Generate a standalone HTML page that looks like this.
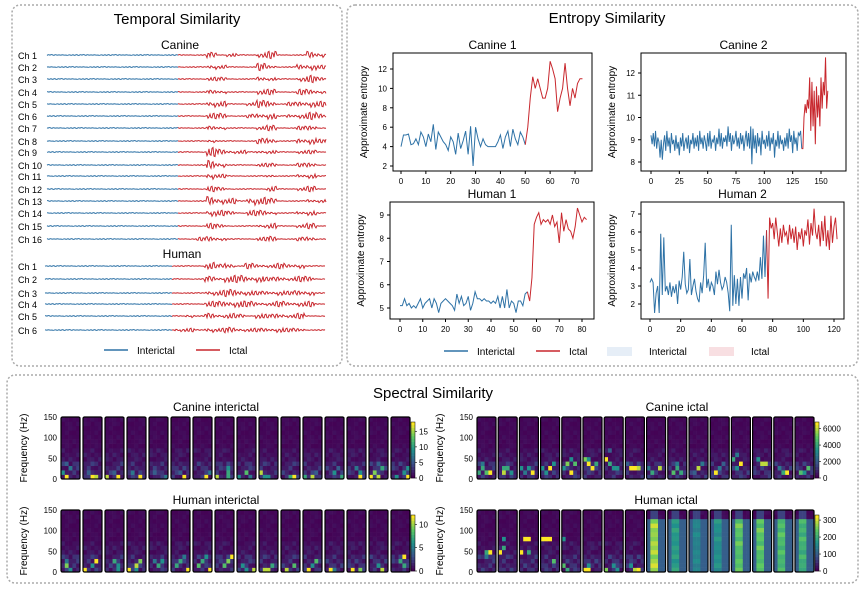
<!DOCTYPE html>
<html><head><meta charset="utf-8">
<style>
body{margin:0;background:#fff;}
svg{display:block;font-family:"Liberation Sans",sans-serif;}
</style></head>
<body>
<svg id="fig" width="865" height="591" viewBox="0 0 865 591" xmlns="http://www.w3.org/2000/svg">
<rect x="0" y="0" width="865" height="591" fill="#fff"/>
<rect x="12" y="5" width="330" height="361" rx="8" fill="none" stroke="#aaa" stroke-width="1.5" stroke-dasharray="2,2"/>
<rect x="347" y="5" width="511" height="361" rx="8" fill="none" stroke="#aaa" stroke-width="1.5" stroke-dasharray="2,2"/>
<rect x="7" y="375" width="851" height="208" rx="8" fill="none" stroke="#aaa" stroke-width="1.5" stroke-dasharray="2,2"/>
<text x="177" y="24" font-size="15" text-anchor="middle">Temporal Similarity</text>
<text x="607" y="23" font-size="15" text-anchor="middle">Entropy Similarity</text>
<text x="433" y="398" font-size="15" text-anchor="middle">Spectral Similarity</text>
<g id="temporal"></g>
<g id="entropy"></g>
<g id="spectral"></g>
</svg>
<script>
// ---------- Temporal data ----------
const canineRows = [55,67,79,92,104,116,128,141,152,165,176,189,201,213,226,239];
const humanRows = [266,279,293,304,316,330];
const canineAmp = ["1111111111111111312113411143","1111111111111111321114211342","1111111111111111221113211342","1111111111111111221113311332","1111111111111111431124412343","1111111111111111331123412343","1111111111111111221112311231","1111111111111111211113411342","1111111111111111532212211221","1111111111111111531112211231","1111111111111111421111211231","1111111111111111321111311231","1111111111111111543154311122","1111111111111111432133211231","1111111111111111321112311231","1111111111111112321112311231"];
const humanAmp = ["1111111111111111424132232311","1111111111111111324434232331","1111111111111111334432232331","1111111111111111334432232331","1111111111111121323213232311","1111111111111221323222232211"];
const jitter = [0.2,-0.5,0.9,-0.3,0.1,-1,0.6,0.3,-0.7,1,-0.2,0.4,-0.9,0.7,-0.1,0.5,-0.6,0.8,-0.4,0.2,-0.8,0.9,0,-0.5,0.3,-0.2,0.7,-1,0.4,-0.3,0.6,-0.7];
// ---------- Entropy data ----------
const c1Inter = [4,5.2,5.2,5.3,4.2,4.3,4.8,4.2,5.5,5,4,5.3,4.5,6.3,3.7,5.5,5,4.5,4.2,3.6,5,4.5,3.2,5.4,3.8,4.6,5.6,3.2,6.1,2,6,4.8,4,4.8,4.2,4,4,4,4,4.5,5.2,3.8,5,5.6,4,5.8,4.8,4.2,5.5,5,4.2];
const c1Ictal = [6,9,11.2,10,11,10,9,9,10,12.8,12,11,7.6,9,10,12.6,10,8.2,10,9,10.5,11,11];
const c2Inter = [9.2,8.8,9.3,8.7,9.4,8.6,9.1,8.9,8.2,9,8.1,8.8,9.2,8.5,9.4,8.7,9.1,8.4,9.3,8.8,9,8.5,9.2,8.6,8.9,8.3,9.1,8.7,9.3,8.5,8.9,9.1,8.6,9.2,8.4,9,8.8,9.3,8.6,9.1,8.7,9.2,8.5,9.4,8.8,9.1,8.6,9.2,8.9,8.5,9.3,8.7,9.4,8.6,9,8.9,9.2,8.5,9.1,8.8,9.5,8.7,9.3,8.6,9.1,8.9,9.2,8.7,9.6,8.9,9.3,8.5,9.2,8.8,9,9.4,8.7,9.1,8.6,9.3,8.8,9.2,8.5,9,9.4,8.7,9.3,8.6,9.6,7.9,9.5,8.6,9.2,8.4,9.3,8.7,9.1,8.3,9.4,8.8,9,8.6,9.2,8.7,9.4,8.5,9.1,8.8,9.3,8.2,9,8.7,9.4,8.6,9.2,8.8,9,8.5,9.1,8.7,9.3,8.6,9.5,8.9,9.2,8.4,9.4,8.8,9.1,8.5,9.3,9.2,9.4,8.6];
const c2Ictal = [8.6,10,10.6,10.2,10.8,10.4,11.8,9.4,11.6,9.6,11.2,8.8,11.4,10,11,9.6,11.8,10.4,11.6,11,12.7,10.4,11.2];
const h1Inter = [5.1,5.1,5.4,5.1,5.2,5,5.1,5,5.2,5.4,5,5.2,5.3,5.4,5,5.4,5.2,4.8,5.2,5.3,5.4,5.3,5.2,5.1,4.9,5.6,5.2,5.5,5.1,5.2,5.5,4.9,5.2,5.7,5.4,5.4,5.3,5.4,5.3,5.3,5.2,5.3,5.2,5.5,5,5.5,5,5.8,5,5.3,5.2,4.8,5.3,5.3,5.1,5.6,5.7];
const h1Ictal = [5.3,6.3,8.6,8.9,9.1,8.6,8.8,8.7,8.8,8.6,9,8.5,8.7,7.8,9.1,8.3,8.8,8.4,8.3,8,8.5,9.3,9,8.7,8.9,8.8];
const h2Inter = [3.2,3.4,3.2,1.5,2.6,3,1.5,5.9,2.5,5.7,2.7,3,2.5,3.2,2.4,3,2.6,3.1,2,3.3,2.8,3.5,4.9,3.1,2.6,2.8,4.5,2.5,3,3.4,2.7,2.3,2.1,3.2,2.6,3.6,5.4,2.9,3.4,2.7,3.2,3,2.5,3.8,3.1,3.9,3.2,2.8,3,3.5,3.2,2.6,1.6,6.4,1.9,3.6,2,3.4,1.9,3.5,2.3,3.7,3.4,4,2.2,3.7,3.2,3.8,3.5,3.3,3.8,3.3,4.6,3.4,5.8,3.5,6.1];
const h2Ictal = [2.3,6.8,6.2,6.5,5.6,6.8,6,5.2,6.2,5.4,6.4,5.8,6,5.3,6.4,5.6,6.2,5.4,6.3,5,6,5.6,6.2,5.2,6.1,5.8,6.7,5.3,6.5,5.8,7.3,6,5.6,6.4,5.2,6.6,5.5,6.9,5.2,6.1,5,6.9,5.4,6.3,6.8,5.6];
// ---------- Spectral data ----------
const canineInterHot = [[[1,0,1],[0,1,.5],[2,2,.4],[1,3,.3]],[[2,0,1],[3,0,.9],[1,1,.3]],[[0,0,.9],[3,0,1],[2,1,.3]],[[3,0,1],[1,1,.4]],[[1,1,.3],[4,0,.4]],[[3,0,1],[2,1,.3]],[[3,0,1],[4,1,.4]],[[0,0,.9],[3,0,.6],[3,1,.6],[3,2,.5]],[[0,0,.5],[2,1,.7],[3,0,.4]],[[0,1,.9],[1,0,.5],[2,0,.5]],[[3,0,1],[2,0,.6]],[[0,0,.6],[2,0,.9],[3,1,.3]],[[2,1,.5],[4,0,.6],[3,2,.3]],[[3,0,1],[3,1,.5],[2,2,.4]],[[0,0,1],[1,1,.8],[2,0,.9],[3,2,.6],[2,3,.3]],[[1,0,.5],[4,0,1],[3,1,.5],[4,2,.5]]];
const canineIctalHot = [[[0,1,.6],[1,2,.6],[2,1,.7],[3,1,1],[1,3,.4]],[[1,1,.9],[2,2,.6],[3,1,.5],[1,2,.6]],[[0,2,.5],[2,2,.5],[3,1,1],[1,1,.4]],[[1,1,.5],[2,2,1],[3,3,.5],[0,2,.5]],[[2,1,1],[1,3,.8],[3,3,.7],[2,4,.5],[0,2,.5]],[[0,4,.8],[1,3,1],[2,2,1],[3,3,.6],[1,4,.5]],[[0,4,1],[1,3,.6],[2,2,.5],[3,2,.5],[1,6,.3]],[[1,2,1],[2,2,1],[3,2,.9],[0,3,.3]],[[1,1,.6],[3,2,.9],[0,2,.4]],[[1,1,.7],[2,2,.6],[3,1,.6],[2,3,.4]],[[2,2,.9],[3,3,.4],[1,1,.3]],[[1,1,1],[2,2,.4],[3,3,.3]],[[1,2,.5],[2,3,1],[0,4,.6],[1,5,.4]],[[2,3,.9],[3,3,.9],[1,4,.5]],[[2,1,.6],[3,1,1],[1,2,.4]],[[1,1,.7],[3,2,.7],[2,1,.5]]];
const humanInterHot = [[[1,1,.8],[2,0,.5],[1,2,.4]],[[0,0,1],[3,2,1],[2,1,.5]],[[3,0,.5],[2,2,.6],[3,1,.5]],[[0,0,1],[2,1,.9],[3,2,.8],[2,0,.5]],[[2,1,.6],[3,2,.5],[1,2,.4]],[[1,1,.6],[2,2,.6],[3,3,.4],[4,0,1]],[[1,1,.7],[2,2,.6],[3,3,.5],[4,0,1]],[[2,1,.7],[3,2,.8],[4,3,1]],[[2,0,.5],[1,1,.5],[4,0,.9]],[[1,0,.9],[2,0,.9],[3,1,.6]],[[1,0,.9],[3,1,.7]],[[1,0,1],[3,2,.7],[2,1,.5]],[[1,0,1],[2,0,.4]],[[1,0,1],[3,0,.8]],[[2,1,.5],[3,0,.9]],[[3,3,1],[2,2,.6],[3,1,.6]]];
const humanIctalHot = [[[2,4,.6],[3,4,1],[2,3,.4]],[[0,4,1],[1,5,.6],[1,7,.5]],[[0,4,1],[1,7,1],[2,7,1],[2,4,.6]],[[0,7,1],[1,7,1],[2,7,1],[3,2,.7]],[[0,7,.5],[0,1,.7],[1,0,.6]],[[0,0,1],[1,0,1],[1,1,.5]],[[0,0,.8],[2,1,.5],[3,0,.5]],[[2,0,.9],[3,0,1],[1,1,.5]]];
const humanIctalStripe = [.95,.6,.5,.55,.8,.8,.75,.7];
const cbTicksCI = ["0","5","10","15"], cbTicksCX = ["0","2000","4000","6000"], cbTicksHI = ["0","5","10"], cbTicksHX = ["0","100","200","300"];
const freqTicks = [0,50,100,150];

const NS = "http://www.w3.org/2000/svg";
function el(tag, attrs, parent, txt){const e=document.createElementNS(NS,tag);for(const k in attrs)e.setAttribute(k,attrs[k]);if(txt!==undefined)e.textContent=txt;parent.appendChild(e);return e;}
const BLUE="#2e72a6", RED="#c8272d";

// ---------- Temporal ----------
const tg=document.getElementById('temporal');
function trace(y, amp, x0, xSwitch, x1, seed, lbl, name){
  const t=el('text',{x:18,y:y+4,'font-size':9},tg,lbl);
  
  
  const segW=(x1-x0)/amp.length;
  let pb="",pr="";
  for(let x=x0;x<=x1;x+=1){
    const seg=Math.min(amp.length-1,Math.floor((x-x0)/segW));
    const a=+amp[seg];
    const j=jitter[(x*7+seed*13)%jitter.length];
    const v=y+(a===1?0.4:a*0.9)*j;
    const pt=x.toFixed(0)+","+v.toFixed(1)+" ";
    if(x<=xSwitch)pb+=pt;
    if(x>=xSwitch)pr+=pt;
  }
  const b=el('polyline',{points:pb,fill:'none',stroke:BLUE,'stroke-width':1},tg);
  
  
  const r=el('polyline',{points:pr,fill:'none',stroke:RED,'stroke-width':1},tg);
  
  
}
let tt=el('text',{x:180,y:49,'font-size':12,'text-anchor':'middle'},tg,'Canine');


canineRows.forEach((y,i)=>trace(y,canineAmp[i],47,178,326,i,'Ch '+(i+1),'canine-ch-'+(i+1)));
tt=el('text',{x:182,y:258,'font-size':12,'text-anchor':'middle'},tg,'Human');


humanRows.forEach((y,i)=>trace(y,humanAmp[i],45,172,325,i+5,'Ch '+(i+1),'human-ch-'+(i+1)));
function legLine(g,x,y,c,label,name,patch){
  const gg=el('g',{},g);
  
  
  if(patch) el('rect',{x:x,y:y-4,width:25,height:9,fill:c},gg);
  else el('line',{x1:x,y1:y,x2:x+24,y2:y,stroke:c,'stroke-width':1.6},gg);
  el('text',{x:x+(patch?42:33),y:y+4,'font-size':10},gg,label);
}
legLine(tg,104,350,BLUE,'Interictal','temporal-legend-interictal');
legLine(tg,196,350,RED,'Ictal','temporal-legend-ictal');

// ---------- Entropy ----------
const eg=document.getElementById('entropy');
function entropyPlot(cfg){
  const g=el('g',{},eg);
  
  
  const X=v=>cfg.px0+(v-cfg.x0)*(cfg.px1-cfg.px0)/(cfg.x1-cfg.x0);
  const Y=v=>cfg.py0+(v-cfg.y0)*(cfg.py1-cfg.py0)/(cfg.y1-cfg.y0);
  let t=el('text',{x:(cfg.bx+cfg.bx2)/2,y:cfg.by-4,'font-size':12,'text-anchor':'middle'},g,cfg.title);
  
  
  const ax=el('rect',{x:cfg.bx,y:cfg.by,width:cfg.bx2-cfg.bx,height:cfg.by2-cfg.by,fill:'none',stroke:'#000','stroke-width':1},g);
  
  
  cfg.xt.forEach(v=>{el('line',{x1:X(v),x2:X(v),y1:cfg.by2,y2:cfg.by2+3,stroke:'#000'},g);
    const l=el('text',{x:X(v),y:cfg.by2+13,'font-size':8,'text-anchor':'middle'},g,String(v));
    
    });
  cfg.yt.forEach(v=>{el('line',{x1:cfg.bx-3,x2:cfg.bx,y1:Y(v),y2:Y(v),stroke:'#000'},g);
    const l=el('text',{x:cfg.bx-6,y:Y(v)+3,'font-size':8,'text-anchor':'end'},g,String(v));
    
    });
  const yl=el('text',{x:0,y:0,'font-size':10,'text-anchor':'middle',transform:`translate(${cfg.bx-26},${(cfg.by+cfg.by2)/2}) rotate(-90)`},g,'Approximate entropy');
  
  
  const n=cfg.inter.length;
  const pb=cfg.inter.map((v,i)=>X(i)+","+Y(v)).join(" ");
  const pr=[cfg.inter[n-1]].concat(cfg.ictal).map((v,i)=>X(n-1+i)+","+Y(v)).join(" ");
  const b=el('polyline',{points:pb,fill:'none',stroke:BLUE,'stroke-width':1},g);
  
  
  const r=el('polyline',{points:pr,fill:'none',stroke:RED,'stroke-width':1},g);
  
  
}
entropyPlot({name:'canine-1-entropy',title:'Canine 1',bx:393,bx2:592,by:53,by2:171,x0:0,x1:70,px0:401,px1:575,y0:2,y1:12,py0:166,py1:69,xt:[0,10,20,30,40,50,60,70],yt:[2,4,6,8,10,12],inter:c1Inter,ictal:c1Ictal});
entropyPlot({name:'canine-2-entropy',title:'Canine 2',bx:641,bx2:846,by:53,by2:171,x0:0,x1:150,px0:651,px1:821,y0:8,y1:12,py0:162,py1:73,xt:[0,25,50,75,100,125,150],yt:[8,9,10,11,12],inter:c2Inter,ictal:c2Ictal});
entropyPlot({name:'human-1-entropy',title:'Human 1',bx:390,bx2:594,by:202,by2:319,x0:0,x1:80,px0:400,px1:582,y0:5,y1:9,py0:308,py1:215,xt:[0,10,20,30,40,50,60,70,80],yt:[5,6,7,8,9],inter:h1Inter,ictal:h1Ictal});
entropyPlot({name:'human-2-entropy',title:'Human 2',bx:641,bx2:844,by:202,by2:319,x0:0,x1:120,px0:650,px1:834,y0:2,y1:7,py0:304,py1:214,xt:[0,20,40,60,80,100,120],yt:[2,3,4,5,6,7],inter:h2Inter,ictal:h2Ictal});
legLine(eg,444,351,BLUE,'Interictal','entropy-legend-interictal-line');
legLine(eg,536,351,RED,'Ictal','entropy-legend-ictal-line');
legLine(eg,607,351,'#e6eef7','Interictal','entropy-legend-interictal-patch',true);
legLine(eg,709,351,'#f8dfe2','Ictal','entropy-legend-ictal-patch',true);

// ---------- Spectral ----------
const sg=document.getElementById('spectral');
function viridis(t){
  const s=[[68,1,84],[59,82,139],[33,145,140],[94,201,98],[253,231,37]];
  t=Math.max(0,Math.min(1,t));const f=t*4,i=Math.min(3,Math.floor(f)),u=f-i;
  return `rgb(${s[i].map((c,k)=>Math.round(c+(s[i+1][k]-c)*u)).join(',')})`;
}
const bgPattern=[.02,.06,.01,.04,.03,.07,.015,.05,.025,.065,.035,.01,.055,.025,.045,.015,.03];
function heatGroup(cfg){
  const g=el('g',{},sg);
  
  
  let t=el('text',{x:cfg.tx,y:cfg.y0-6,'font-size':12,'text-anchor':'middle'},g,cfg.title);
  
  
  const cols=5,rows=14,pw=19,ph=cfg.y1-cfg.y0;
  const cw=pw/cols,ch=ph/rows;
  for(let p=0;p<16;p++){
    const px=cfg.x0+p*cfg.pitch;
    const pg=el('g',{},g);
    
    
    const hot=cfg.hot[p]||[];
    for(let c=0;c<cols;c++)for(let r=0;r<rows;r++){
      let v=bgPattern[(c*5+r*3+p*7)%bgPattern.length]*(r<4?3:(r<7?1.5:0.6));
      if(cfg.stripe&&p>=8){ if(c===1||c===2) v=(r<12?cfg.stripe[p-8]*(0.8+bgPattern[(r+p)%17]*3):0.2); else if(r<12) v=0.3; }
      hot.forEach(h=>{if(h[0]===c&&h[1]===r)v=h[2];});
      el('rect',{x:px+c*cw,y:cfg.y1-(r+1)*ch,width:cw+0.3,height:ch+0.3,fill:viridis(v)},pg);
    }
    el('rect',{x:px,y:cfg.y0,width:pw,height:ph,fill:'none',stroke:'#000','stroke-width':1.2,rx:1.5},pg);
  }
  freqTicks.forEach(f=>{const y=cfg.y1-f/150*ph;
    const l=el('text',{x:cfg.x0-4,y:y+3,'font-size':8,'text-anchor':'end'},g,String(f));
    
    });
  const yl=el('text',{x:0,y:0,'font-size':10,'text-anchor':'middle',transform:`translate(${cfg.x0-34},${(cfg.y0+cfg.y1)/2}) rotate(-90)`},g,'Frequency (Hz)');
  
  
  const cbx=cfg.x0+15*cfg.pitch+pw+1, cby0=cfg.y0+5, cby1=cfg.y1-1;
  const cb=el('g',{},g);
  
  
  for(let i=0;i<20;i++)el('rect',{x:cbx,y:cby1-(i+1)*(cby1-cby0)/20,width:4,height:(cby1-cby0)/20+0.3,fill:viridis(i/19)},cb);
  el('rect',{x:cbx,y:cby0,width:4,height:cby1-cby0,fill:'none',stroke:'#000','stroke-width':.5},cb);
  cfg.cb.forEach((lab,i)=>{const y=cby1-i*(cby1-cby0)/(cfg.cbMax);
    el('line',{x1:cbx+4,x2:cbx+6,y1:y,y2:y,stroke:'#000','stroke-width':.6},cb);
    el('text',{x:cbx+8,y:y+3,'font-size':8},cb,lab);});
}
heatGroup({name:'canine-interictal-heatmap',title:'Canine interictal',tx:216,x0:61,pitch:22,y0:417,y1:479,hot:canineInterHot,cb:cbTicksCI,cbMax:3.6});
heatGroup({name:'canine-ictal-heatmap',title:'Canine ictal',tx:677,x0:477,pitch:21.2,y0:417,y1:479,hot:canineIctalHot,cb:cbTicksCX,cbMax:3.4});
heatGroup({name:'human-interictal-heatmap',title:'Human interictal',tx:216,x0:61,pitch:22,y0:510,y1:572,hot:humanInterHot,cb:cbTicksHI,cbMax:2.4});
heatGroup({name:'human-ictal-heatmap',title:'Human ictal',tx:666,x0:477,pitch:21.2,y0:510,y1:572,hot:humanIctalHot,stripe:humanIctalStripe,cb:cbTicksHX,cbMax:3.3});
</script>
</body></html>
